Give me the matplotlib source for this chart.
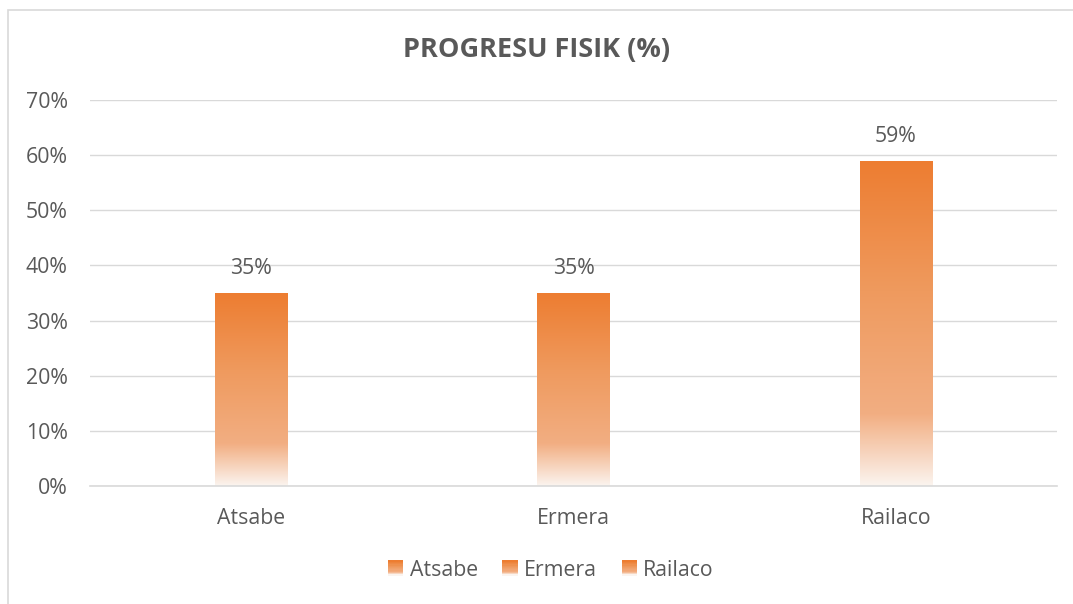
import matplotlib
matplotlib.use("Agg")
import matplotlib.pyplot as plt
import matplotlib.patches as mpatches
import numpy as np
from matplotlib.colors import LinearSegmentedColormap
from matplotlib.legend_handler import HandlerBase

# Data
categories = ["Atsabe", "Ermera", "Railaco"]
values = [35, 35, 59]
yticks = [0, 10, 20, 30, 40, 50, 60, 70]
title = "PROGRESU FISIK (%)"

plt.rcParams["font.family"] = ["Open Sans", "DejaVu Sans"]
TEXT = "#595959"
GRID = "#D9D9D9"
FS = 15.3

# Excel-like gradient: strong orange at top, fading to near white at bottom
grad = LinearSegmentedColormap.from_list(
    "bar_grad",
    [(0.0, "#FBF4EF"), (0.22, "#F2AE82"), (0.6, "#EF9A5E"), (1.0, "#ED7D31")],
)

fig = plt.figure(figsize=(10.73, 6.04), dpi=100)
ax = fig.add_axes([90 / 1073, 1 - 486 / 604, 967 / 1073, 386 / 604])

# chart border
fig.patches.append(mpatches.Rectangle(
    (8 / 1073, -0.1), 1.2, 1 - 10.5 / 604 + 0.1, transform=fig.transFigure,
    facecolor="none", edgecolor=GRID, lw=1.2, zorder=0))

x = np.arange(len(categories))
width = 0.224
bars = ax.bar(x, values, width=width, color="none", zorder=2)

gvals = np.linspace(0, 1, 256).reshape(-1, 1)
for rect, v in zip(bars, values):
    x0 = rect.get_x()
    im = ax.imshow(gvals, cmap=grad, origin="lower", aspect="auto",
                   extent=(x0, x0 + rect.get_width(), 0, v), zorder=2)
    im.set_clip_path(rect)
    ax.text(rect.get_x() + rect.get_width() / 2, v + 4.4, f"{v}%",
            ha="center", va="center", fontsize=FS, color=TEXT)

ax.set_xlim(-0.5, len(categories) - 0.5)
ax.set_ylim(0, 70)
ax.set_yticks(yticks)
ax.set_yticklabels([f"{t}%" for t in yticks])
ax.set_xticks(x)
ax.set_xticklabels(categories)
ax.tick_params(axis="both", length=0, labelsize=FS, colors=TEXT)
ax.tick_params(axis="y", pad=16)
ax.tick_params(axis="x", pad=16)
ax.yaxis.grid(True, color=GRID, lw=1.0, zorder=0)
ax.set_axisbelow(True)
for name, s in ax.spines.items():
    s.set_visible(name == "bottom")
ax.spines["bottom"].set_color(GRID)
ax.spines["bottom"].set_linewidth(1.2)

fig.text(0.5, 1 - 50 / 604, title, ha="center", va="center",
         fontsize=19.5, fontweight="bold", color=TEXT)


class GradientHandler(HandlerBase):
    def create_artists(self, legend, orig_handle, xdescent, ydescent,
                       width, height, fontsize, trans):
        side = height * 1.0
        x0 = xdescent + (width - side) / 2
        n = 12
        cols = grad(np.linspace(1, 0, n))
        artists = []
        for i, c in enumerate(cols):
            r = mpatches.Rectangle((x0, -ydescent + side * (1 - (i + 1) / n)),
                                   side, side / n, facecolor=c,
                                   edgecolor="none", transform=trans)
            artists.append(r)
        return artists


handles = [mpatches.Patch() for _ in categories]
ax.legend(handles, categories, handler_map={mpatches.Patch: GradientHandler()},
          loc="center", bbox_to_anchor=(551 / 1073, 1 - 570 / 604), bbox_transform=fig.transFigure,
          ncol=3, frameon=False, fontsize=FS, labelcolor=TEXT,
          handlelength=0.72, handleheight=0.72, handletextpad=0.3, columnspacing=1.15)

fig.savefig("out.png", dpi=100)
